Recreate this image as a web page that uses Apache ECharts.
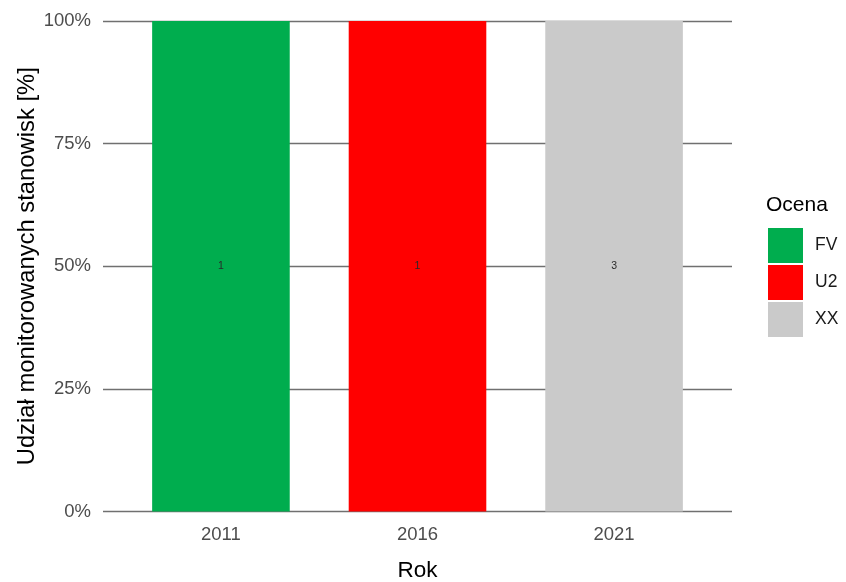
<!DOCTYPE html>
<html>
<head>
<meta charset="utf-8">
<script src="https://cdn.jsdelivr.net/npm/echarts@6/dist/echarts.min.js"></script>
<style>html,body{margin:0;padding:0;background:#fff}#c{width:846px;height:582px}</style>
</head>
<body>
<div id="c"></div>
<script>
// Data
var years = ['2011', '2016', '2021'];
var ratings = ['FV', 'U2', 'XX'];
var countsFV = [1, 0, 0];
var countsU2 = [0, 1, 0];
var countsXX = [0, 0, 3];
var yTicks = [0, 25, 50, 75, 100];
var colors = { FV: '#00AD4E', U2: '#FF0000', XX: '#CACACA' };

var countsByRating = { FV: countsFV, U2: countsU2, XX: countsXX };
var totals = years.map(function (y, i) { return countsFV[i] + countsU2[i] + countsXX[i]; });

var FONT = 'Liberation Sans, Arial, sans-serif';

var series = ratings.map(function (r) {
  var counts = countsByRating[r];
  return {
    name: r,
    type: 'bar',
    stack: 'total',
    barWidth: '70%',
    itemStyle: { color: colors[r] },
    label: {
      show: true,
      position: 'inside',
      fontSize: 10.5,
      color: '#2a2a2a',
      fontFamily: FONT,
      formatter: function (p) { return p.data.count; }
    },
    data: years.map(function (y, i) {
      if (!counts[i]) return { value: [i + 1, null], count: '' };
      return { value: [i + 1, counts[i] / totals[i] * 100], count: counts[i] };
    })
  };
});

var chart = echarts.init(document.getElementById('c'), null, { renderer: 'canvas' });
chart.setOption({
  animation: false,
  backgroundColor: '#fff',
  textStyle: { fontFamily: FONT },
  title: {
    text: 'Ocena',
    left: 766,
    top: 195,
    padding: 0,
    textStyle: { fontSize: 21, fontWeight: 'normal', color: '#000', fontFamily: FONT }
  },
  legend: {
    orient: 'vertical',
    left: 768,
    top: 228,
    padding: 0,
    itemWidth: 35,
    itemHeight: 35,
    itemGap: 2,
    icon: 'rect',
    data: ratings,
    textStyle: { fontSize: 17.5, color: '#1a1a1a', fontFamily: FONT, padding: [0, 0, 0, 7] },
    selectedMode: false
  },
  grid: { left: 103, right: 114, top: 21, bottom: 70.5, containLabel: false, outerBoundsMode: 'none' },
  xAxis: {
    type: 'value',
    min: 0.4,
    max: 3.6,
    name: 'Rok',
    nameLocation: 'middle',
    nameGap: 48,
    nameMoveOverlap: false,
    nameTextStyle: { fontSize: 22.5, color: '#000', fontFamily: FONT },
    axisLine: { show: false },
    axisTick: { show: false },
    splitLine: { show: false },
    axisLabel: {
      customValues: [1, 2, 3],
      formatter: function (v) { return years[Math.round(v) - 1]; },
      fontSize: 18.5,
      color: '#4d4d4d',
      margin: 14,
      fontFamily: FONT
    }
  },
  yAxis: {
    type: 'value',
    min: 0,
    max: 100,
    interval: 25,
    name: 'Udział monitorowanych stanowisk [%]',
    nameLocation: 'middle',
    nameGap: 64,
    nameMoveOverlap: false,
    nameTextStyle: { fontSize: 23.8, color: '#000', fontFamily: FONT },
    axisLine: { show: false },
    axisTick: { show: false },
    axisLabel: {
      customValues: yTicks,
      formatter: '{value}%',
      fontSize: 18.5,
      color: '#4d4d4d',
      margin: 12,
      fontFamily: FONT
    },
    splitLine: { show: true, lineStyle: { color: '#707070', width: 1.4 } }
  },
  series: series
});
</script>
</body>
</html>
